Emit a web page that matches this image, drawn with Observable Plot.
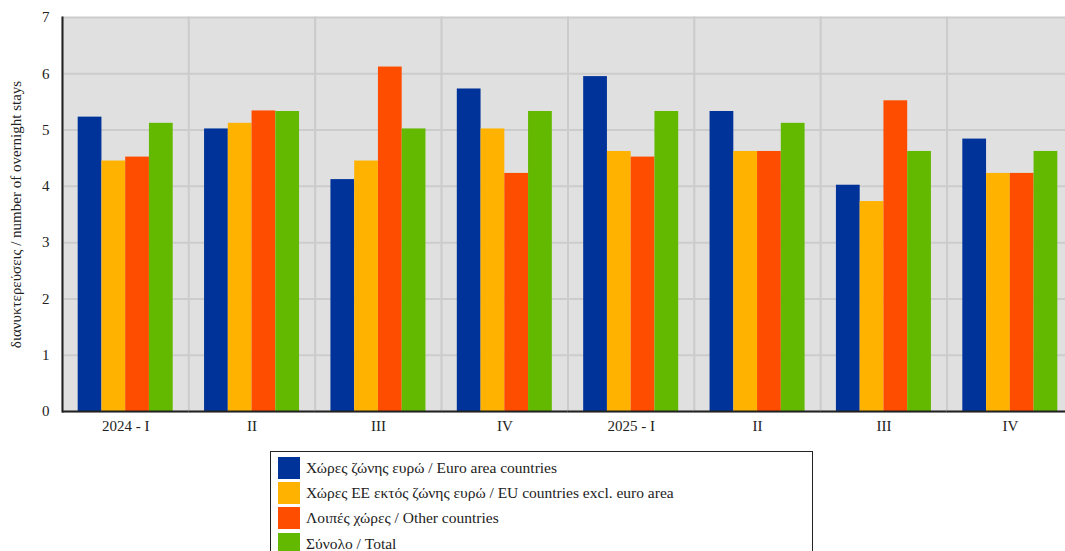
<!DOCTYPE html>
<html><head><meta charset="utf-8">
<script src="https://cdn.jsdelivr.net/npm/d3@7"></script>
<script src="https://cdn.jsdelivr.net/npm/@observablehq/plot@0.6"></script>
<style>
html,body{margin:0;padding:0;}
body{overflow:hidden;background:#fff;width:1065px;height:551px;position:relative;font-family:"Liberation Serif",serif;color:#222;}
#chart{position:absolute;left:0;top:0;width:1073px;}
#chart svg{max-width:none !important;}
#legend{position:absolute;left:270px;top:451px;width:543px;height:120px;border:1px solid #222;box-sizing:border-box;padding:3px 0 0 7px;background:#fff;}
.row{display:flex;align-items:center;height:25.3px;font-size:15.5px;line-height:18px;}
.sw{width:22px;height:22px;margin-right:6px;flex:none;}
</style>
</head><body>
<div id="chart"></div>
<div id="legend"></div>
<script>
const quarters = ["2024 - I","II","III","IV","2025 - I","II","III","IV"];
const series = [
  "Χώρες ζώνης ευρώ / Euro area countries",
  "Χώρες ΕΕ εκτός ζώνης ευρώ / EU countries excl. euro area",
  "Λοιπές χώρες / Other countries",
  "Σύνολο / Total"
];
const colors = ["#003399","#FFB300","#FF4D00","#63B800"];
const euroArea  = [5.23,5.02,4.12,5.73,5.95,5.33,4.02,4.84];
const euNonEuro = [4.45,5.12,4.45,5.02,4.62,4.62,3.73,4.23];
const otherC    = [4.52,5.34,6.12,4.23,4.52,4.62,5.52,4.23];
const totalC    = [5.12,5.33,5.02,5.33,5.33,5.12,4.62,4.62];
const yTicks = [0,1,2,3,4,5,6,7];
const yLabel = "διανυκτερεύσεις / number of overnight stays";

const values = [euroArea, euNonEuro, otherC, totalC];
const rows = quarters.flatMap((q,i)=>series.map((s,j)=>({qi:i, series:s, value:values[j][i]})));

const chart = Plot.plot({
  width:1073, height:440,
  marginLeft:62, marginRight:0, marginTop:17, marginBottom:29,
  style:{fontFamily:"'Liberation Serif', serif", fontSize:"15px", color:"#222", background:"transparent", overflow:"visible"},
  fx:{domain:d3.range(quarters.length), padding:0, round:false, label:null},
  x:{domain:series, paddingInner:0, paddingOuter:0.66, align:0.5, round:false, axis:null},
  y:{domain:[0,7]},
  color:{domain:series, range:colors},
  marks:[
    Plot.frame({fill:"#e0e0e0", stroke:"#cccccc", strokeWidth:2}),
    Plot.gridY(yTicks.slice(1,-1), {stroke:"#cccccc", strokeOpacity:1, strokeWidth:2}),
    Plot.barY(rows, {fx:"qi", x:"series", y:"value", fill:"series"}),
    Plot.ruleY([0], {stroke:"#222", strokeWidth:2}),
    Plot.axisY(yTicks, {tickSize:0, tickPadding:13, tickFormat:d=>String(d), fontSize:15, label:yLabel, labelAnchor:"center", labelOffset:52, labelArrow:"none"}),
    Plot.axisFx({anchor:"bottom", tickSize:0, tickPadding:9, fontSize:15, tickFormat:i=>quarters[i], label:null}),
    Plot.frame({anchor:"left", facetAnchor:"left", stroke:"#222", strokeWidth:2})
  ]
});
chart.style.maxWidth = "none";
document.getElementById("chart").appendChild(chart);

const leg = document.getElementById("legend");
series.forEach((s,j)=>{
  const r = document.createElement("div"); r.className="row";
  const sw = document.createElement("div"); sw.className="sw"; sw.style.background = colors[j];
  const t = document.createElement("span"); t.textContent = s;
  r.appendChild(sw); r.appendChild(t); leg.appendChild(r);
});
</script>
</body></html>
